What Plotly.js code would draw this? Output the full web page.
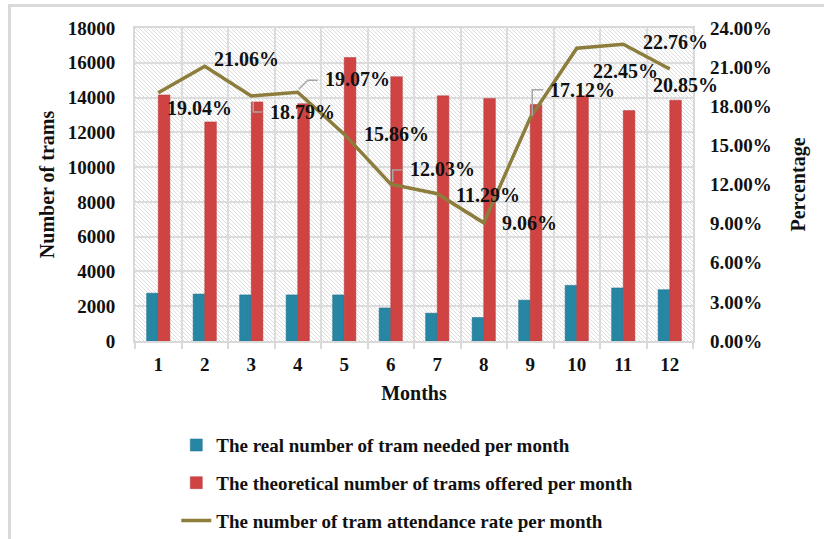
<!DOCTYPE html>
<html>
<head>
<meta charset="utf-8">
<script src="https://cdn.plot.ly/plotly-3.0.1.min.js"></script>
<style>
  html, body { margin: 0; padding: 0; background: #fff; }
  #chart { width: 824px; height: 539px; }
  #frame { position: absolute; left: 8px; top: 4px; width: 816px; height: 535px;
           border-left: 3px solid #d9d9d9; border-top: 3px solid #d9d9d9; pointer-events: none; box-sizing: border-box; }
</style>
</head>
<body>
<div id="chart"></div>
<div id="frame"></div>
<script>
// ---- data ----
const months = ['1','2','3','4','5','6','7','8','9','10','11','12'];
const realNeeded = [2750, 2700, 2650, 2650, 2650, 1900, 1600, 1350, 2350, 3200, 3050, 2950];
const theoreticalOffered = [14150, 12600, 13750, 13650, 16300, 15200, 14100, 13950, 13600, 14100, 13250, 13850];
const attendanceRate = [19.04, 21.06, 18.79, 19.07, 15.86, 12.03, 11.29, 9.06, 17.12, 22.45, 22.76, 20.85];
const seriesNames = [
  'The real number of tram needed per month',
  'The theoretical number of trams offered per month',
  'The number of tram attendance rate per month'
];

// ---- label placement (pixel offsets from each point) ----
const labelOffsets = [[41,15],[42,-7],[51,16],[60,-13],[52,0],[52,-15],[51,1],[46,0],[52,-28],[49,23],[52,-2],[16,16]];
// elbow leader lines (pixel paths relative to point, y up) for some labels
const leaders = {2: 'M2,-6 V-16 H11', 3: 'M1,3 L10,12 H20', 5: 'M2,2 V14 H11', 8: 'M2,2 V28 H13'};

const FONT = 'Liberation Serif, Times New Roman, serif';
const bold = (size) => ({ family: FONT, size: size, color: '#111', weight: 'bold' });

const traces = [
  { type: 'bar', name: seriesNames[0], x: months, y: realNeeded,
    marker: { color: '#2886a5', line: { color: '#1f6f88', width: 0.5 } }, legendgroup: 'a', hoverinfo: 'y' },
  { type: 'bar', name: seriesNames[1], x: months, y: theoreticalOffered,
    marker: { color: '#cf4343', line: { color: '#b33a3a', width: 0.5 } }, legendgroup: 'b', hoverinfo: 'y' },
  { type: 'scatter', mode: 'lines', name: seriesNames[2], x: months, y: attendanceRate, yaxis: 'y2',
    line: { color: '#8c7d3c', width: 3.5 }, legendgroup: 'c', hoverinfo: 'y' }
];

const annotations = months.map((m, i) => ({
  x: i, y: attendanceRate[i], xref: 'x', yref: 'y2',
  text: attendanceRate[i].toFixed(2) + '%',
  showarrow: true, arrowcolor: 'rgba(0,0,0,0)', arrowwidth: 0.1,
  ax: labelOffsets[i][0], ay: labelOffsets[i][1],
  font: bold(20)
}));

const shapes = Object.keys(leaders).map(k => {
  const i = +k;
  return { type: 'path', xref: 'x', yref: 'y2', xsizemode: 'pixel', ysizemode: 'pixel',
           xanchor: i, yanchor: attendanceRate[i], path: leaders[k],
           line: { color: '#a6a6a6', width: 1.5 }, layer: 'above' };
});

const hatch = 'data:image/svg+xml;utf8,' + encodeURIComponent(
  '<svg xmlns="http://www.w3.org/2000/svg" width="558" height="313">' +
  '<defs><pattern id="p" width="4" height="4" patternUnits="userSpaceOnUse">' +
  '<path d="M-1,-1 L5,5 M-1,3 L1,5 M3,-1 L5,1" stroke="#d4d4d4" stroke-width="0.8"/></pattern></defs>' +
  '<rect width="558" height="313" fill="#ffffff"/><rect width="558" height="313" fill="url(#p)"/></svg>');

const layout = {
  width: 824, height: 539,
  margin: { l: 135, r: 131, t: 28, b: 198, autoexpand: false },
  paper_bgcolor: '#ffffff', plot_bgcolor: 'rgba(0,0,0,0)',
  font: { family: FONT, size: 19, color: '#111' },
  barmode: 'group', bargap: 0.5, bargroupgap: 0,
  showlegend: true,
  xaxis: {
    type: 'category', range: [-0.5, 11.5], autorange: false,
    tickson: 'boundaries', ticks: 'outside', ticklen: 6, tickcolor: '#d9d9d9', tickwidth: 2,
    ticklabelstandoff: 5,
    showgrid: true, gridcolor: '#dcdcdc', gridwidth: 2,
    showline: true, linecolor: '#d9d9d9', linewidth: 2, mirror: true,
    tickfont: bold(19),
    title: { text: 'Months', font: bold(20), standoff: 12 },
    fixedrange: true
  },
  yaxis: {
    range: [0, 18000], dtick: 2000, tickformat: 'd',
    showgrid: true, gridcolor: '#dcdcdc', gridwidth: 2, zeroline: false,
    showline: true, linecolor: '#d9d9d9', linewidth: 2, mirror: true,
    ticks: '', ticklabelstandoff: 14,
    tickfont: bold(19),
    title: { text: 'Number of trams', font: bold(20), standoff: 8 },
    fixedrange: true
  },
  yaxis2: {
    overlaying: 'y', side: 'right', range: [0, 24], dtick: 3, tickformat: '.2f', ticksuffix: '%',
    showgrid: false, zeroline: false, showline: false, ticks: '', ticklabelstandoff: 16,
    tickfont: bold(19),
    title: { text: 'Percentage', font: bold(20), standoff: 20 },
    fixedrange: true
  },
  legend: {
    x: 0.074, y: -0.272, xanchor: 'left', yanchor: 'top', orientation: 'v',
    traceorder: 'grouped', tracegroupgap: 10,
    font: bold(19), bgcolor: 'rgba(0,0,0,0)'
  },
  annotations: annotations,
  shapes: shapes,
  images: [{ source: hatch, xref: 'paper', yref: 'paper', x: 0, y: 1, sizex: 1, sizey: 1,
             xanchor: 'left', yanchor: 'top', sizing: 'stretch', layer: 'below' }]
};

Plotly.newPlot('chart', traces, layout, { displayModeBar: false, staticPlot: true });
</script>
</body>
</html>
